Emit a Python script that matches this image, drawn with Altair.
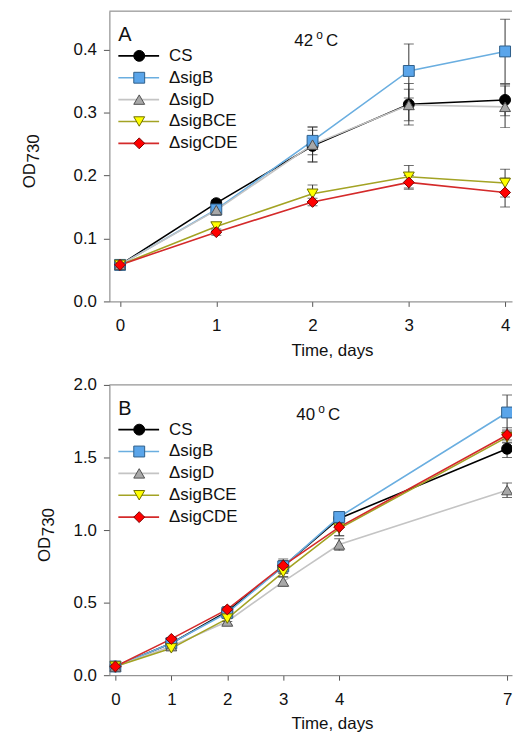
import altair as alt
import pandas as pd

# ---------------- data ----------------
series_names = ["CS", "sigB", "sigD", "sigBCE", "sigCDE"]
series_labels = ["CS", "\u0394sigB", "\u0394sigD", "\u0394sigBCE", "\u0394sigCDE"]
line_colors = ["#000000", "#6aaee0", "#c4c4c4", "#a3a324", "#d42a2a"]
fill_colors = ["#000000", "#5aa5ea", "#a8a8a8", "#ffff00", "#ff0000"]
stroke_colors = ["#000000", "#2e5f8a", "#505050", "#6e6e00", "#7a0000"]
shapes = ["circle", "square", "triangle-up", "triangle-down", "diamond"]

# Panel A, 42 oC
days_A = [0, 1, 2, 3, 4]
A_CS = [0.058, 0.156, 0.247, 0.313, 0.320]
A_CS_err = [0.004, 0.005, 0.025, 0.033, 0.025]
A_sigB = [0.058, 0.146, 0.255, 0.366, 0.397]
A_sigB_err = [0.003, 0.006, 0.022, 0.043, 0.051]
A_sigD = [0.058, 0.145, 0.249, 0.312, 0.309]
A_sigD_err = [0.003, 0.008, 0.028, 0.025, 0.033]
A_sigBCE = [0.058, 0.119, 0.171, 0.198, 0.188]
A_sigBCE_err = [0.003, 0.006, 0.014, 0.018, 0.022]
A_sigCDE = [0.058, 0.110, 0.158, 0.189, 0.173]
A_sigCDE_err = [0.003, 0.005, 0.006, 0.011, 0.023]

# Panel B, 40 oC
days_B = [0, 1, 2, 3, 4, 7]
B_CS = [0.06, 0.22, 0.44, 0.75, 1.08, 1.56]
B_CS_err = [0.01, 0.01, 0.02, 0.05, 0.04, 0.06]
B_sigB = [0.06, 0.22, 0.43, 0.75, 1.09, 1.81]
B_sigB_err = [0.01, 0.01, 0.02, 0.04, 0.03, 0.12]
B_sigD = [0.06, 0.20, 0.37, 0.645, 0.90, 1.275]
B_sigD_err = [0.01, 0.01, 0.02, 0.03, 0.04, 0.05]
B_sigBCE = [0.06, 0.185, 0.39, 0.71, 1.01, 1.64]
B_sigBCE_err = [0.01, 0.01, 0.02, 0.03, 0.05, 0.04]
B_sigCDE = [0.06, 0.25, 0.453, 0.755, 1.02, 1.655]
B_sigCDE_err = [0.01, 0.01, 0.02, 0.03, 0.06, 0.05]

FONT = "Liberation Sans"
FRAME = "#7a7a7a"
TXT = "#111111"
PLOT_W = 405
PLOT_H = 292


def long_frame(days, vals, errs):
    rows = []
    for k, name in enumerate(series_names):
        for d, v, e in zip(days, vals[k], errs[k]):
            rows.append({"day": d, "series": name, "value": v,
                         "lo": v - e, "hi": v + e})
    return pd.DataFrame(rows)


line_scale = alt.Scale(domain=series_names, range=line_colors)
fill_scale = alt.Scale(domain=series_names, range=fill_colors)
stroke_scale = alt.Scale(domain=series_names, range=stroke_colors)
shape_scale = alt.Scale(domain=series_names, range=shapes)


def text_layer(value, px, py, size, align="left", angle=0):
    return alt.Chart(pd.DataFrame({"t": [value]})).mark_text(
        align=align, baseline="alphabetic", fontSize=size, font=FONT,
        color=TXT, angle=angle).encode(
        x=alt.value(px), y=alt.value(py), text="t:N")


def panel(days, vals, errs, xdom, ydom, yticks, letter, temp, temp_x, ytitle_x):
    df = long_frame(days, vals, errs)
    base = alt.Chart(df)
    x = alt.X("day:Q", scale=alt.Scale(domain=xdom, nice=False, zero=False),
              axis=alt.Axis(values=days, format="d", title="Time, days",
                            tickSize=5, labelPadding=11, titlePadding=9,
                            titleX=224))
    y = alt.Y("value:Q", scale=alt.Scale(domain=ydom, nice=False),
              axis=alt.Axis(values=yticks, format=".1f", title=None,
                            tickSize=6, labelPadding=7))
    lines = base.mark_line(clip=True, strokeWidth=1.6).encode(
        x=x, y=y,
        color=alt.Color("series:N", scale=line_scale, legend=None),
        order="day:Q")
    bars = base.mark_rule(clip=True, color="#333333", strokeWidth=1).encode(
        x="day:Q", y="lo:Q", y2="hi:Q")
    cap_lo = base.mark_tick(clip=True, orient="horizontal", size=10,
                            thickness=1, color="#333333").encode(x="day:Q", y="lo:Q")
    cap_hi = base.mark_tick(clip=True, orient="horizontal", size=10,
                            thickness=1, color="#333333").encode(x="day:Q", y="hi:Q")
    pts = base.mark_point(filled=True, clip=True, size=120, strokeWidth=1,
                          opacity=1).encode(
        x="day:Q", y="value:Q",
        shape=alt.Shape("series:N", scale=shape_scale, legend=None),
        fill=alt.Fill("series:N", scale=fill_scale, legend=None),
        stroke=alt.Stroke("series:N", scale=stroke_scale, legend=None))

    # top border of the frame
    top = alt.Chart(pd.DataFrame({"t": [0]})).mark_rule(
        color=FRAME, strokeWidth=1).encode(
        x=alt.value(0), x2=alt.value(PLOT_W), y=alt.value(0))

    # hand-made legend (inside the plot, top-left)
    leg = pd.DataFrame({"series": series_names, "label": series_labels,
                        "ly": [45 + 22 * i for i in range(len(series_names))]})
    lbase = alt.Chart(leg)
    ly = alt.Y("ly:Q", scale=None, axis=None)
    leg_line = lbase.mark_rule(strokeWidth=1.6).encode(
        x=alt.value(9), x2=alt.value(50), y=ly,
        color=alt.Color("series:N", scale=line_scale, legend=None))
    leg_pt = lbase.mark_point(filled=True, size=120, strokeWidth=1, opacity=1).encode(
        x=alt.value(30), y=ly,
        shape=alt.Shape("series:N", scale=shape_scale, legend=None),
        fill=alt.Fill("series:N", scale=fill_scale, legend=None),
        stroke=alt.Stroke("series:N", scale=stroke_scale, legend=None))
    leg_txt = lbase.mark_text(align="left", baseline="middle", fontSize=17,
                              font=FONT, color=TXT).encode(
        x=alt.value(60), y=ly, text="label:N")

    # panel letter, temperature, y title (OD with subscript 730)
    t_letter = text_layer(letter, 9, 30, 20)
    t_num = text_layer(temp, temp_x, 35, 17)
    t_o = text_layer("o", temp_x + 22, 28, 12)
    t_c = text_layer("C", temp_x + 32, 35, 17)
    t_od = text_layer("OD", ytitle_x, 165.5, 17, align="center", angle=270)
    t_sub = text_layer("730", ytitle_x + 4, 138, 17, align="center", angle=270)

    return alt.layer(top, lines, bars, cap_lo, cap_hi, pts,
                     leg_line, leg_pt, leg_txt,
                     t_letter, t_num, t_o, t_c, t_od, t_sub).properties(
        width=PLOT_W, height=PLOT_H)


panel_A = panel(days_A,
                [A_CS, A_sigB, A_sigD, A_sigBCE, A_sigCDE],
                [A_CS_err, A_sigB_err, A_sigD_err, A_sigBCE_err, A_sigCDE_err],
                [-0.1105, 4.072], [0, 0.461], [0, 0.1, 0.2, 0.3, 0.4],
                "A", "42", 186, -75)
panel_B = panel(days_B,
                [B_CS, B_sigB, B_sigD, B_sigBCE, B_sigCDE],
                [B_CS_err, B_sigB_err, B_sigD_err, B_sigBCE_err, B_sigCDE_err],
                [-0.1066, 7.088], [0, 2.0], [0, 0.5, 1.0, 1.5, 2.0],
                "B", "40", 188, -60)

chart = alt.vconcat(panel_A, panel_B, spacing=18).properties(
    padding={"left": 13, "top": 0, "right": 0, "bottom": 0}
).configure(font=FONT).configure_view(
    stroke=None
).configure_axis(
    grid=False, domainColor=FRAME, tickColor="#555555",
    labelColor=TXT, titleColor=TXT,
    labelFont=FONT, titleFont=FONT, labelFontSize=17, titleFontSize=17,
    titleFontWeight="normal"
)

chart.save("out.html", embed_options={"renderer": "svg", "actions": False})
